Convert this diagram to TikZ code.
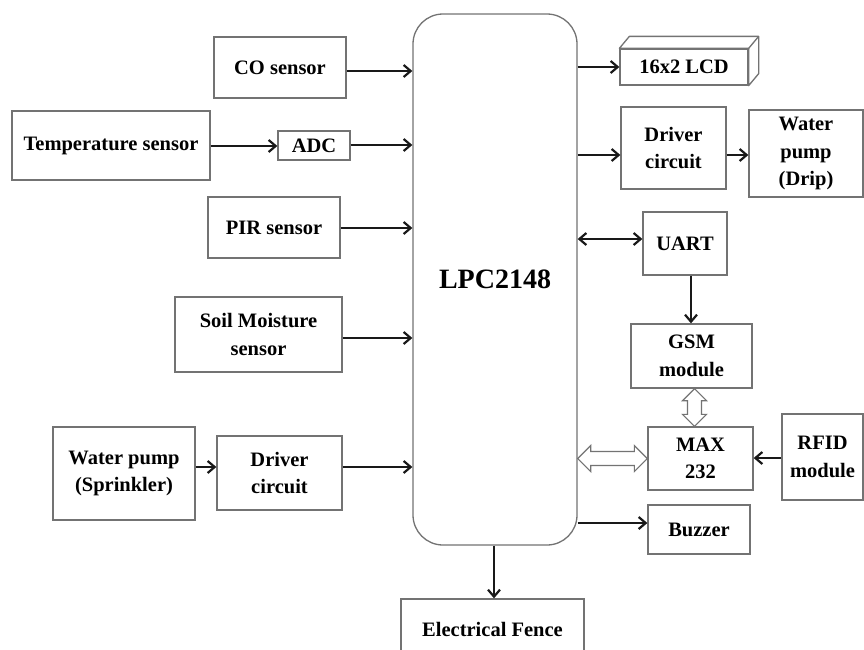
\documentclass[tikz,border=0pt]{standalone}
\usepackage{fontspec}
\setmainfont{Liberation Serif}
\usetikzlibrary{arrows.meta,calc}
\begin{document}
\begin{tikzpicture}[x=1pt,y=-1pt,
  box/.style={draw=black!55, line width=1.3pt, fill=white, font=\fontsize{20.5}{27.5}\selectfont\bfseries, align=center, inner sep=0pt},
  tipb/.tip={Straight Barb[length=7pt,width=12pt,line width=2.2pt]},
  arr/.style={line width=2.6pt, draw=black!90, -tipb},
  darr/.style={line width=2.6pt, draw=black!90, tipb-tipb},
  hollow/.style={draw=black!55, line width=1.2pt, fill=white, line join=miter}
]
\useasboundingbox (0,0) rectangle (864,649);
\clip (0,0) rectangle (864,649);

% central controller
\node[box, rounded corners=30pt, minimum width=164pt, minimum height=531pt, font=\fontsize{28}{34}\selectfont\bfseries] (lpc) at (495,279.5) {LPC2148};

% left side
\node[box, minimum width=132pt, minimum height=61pt] (co) at (280,67.5) {CO sensor};
\node[box, minimum width=198pt, minimum height=69pt] (temp) at (111,145.5) {Temperature sensor};
\node[box, minimum width=72pt, minimum height=29pt] (adc) at (314,145.5) {ADC};
\node[box, minimum width=132pt, minimum height=61pt] (pir) at (274,227.5) {PIR sensor};
\node[box, minimum width=167pt, minimum height=75pt] (soil) at (258.5,334.5) {Soil Moisture\\sensor};
\node[box, minimum width=142pt, minimum height=93pt] (spr) at (124,473.5) {Water pump\\(Sprinkler)};
\node[box, minimum width=125pt, minimum height=74pt] (drvl) at (279.5,473) {Driver\\circuit};

% right side
\node[box, minimum width=128pt, minimum height=36pt] (lcd) at (684,67) {16x2 LCD};
\node[box, minimum width=105pt, minimum height=82pt] (drvr) at (673.5,148) {Driver\\circuit};
\node[box, minimum width=114pt, minimum height=87pt] (drip) at (806,153.5) {Water\\pump\\(Drip)};
\node[box, minimum width=84pt, minimum height=63pt] (uart) at (685,243.5) {UART};
\node[box, minimum width=121pt, minimum height=64pt] (gsm) at (691.5,356) {GSM\\module};
\node[box, minimum width=105pt, minimum height=63pt] (max) at (700.5,458.5) {MAX\\232};
\node[box, minimum width=81pt, minimum height=86pt] (rfid) at (822.5,457) {RFID\\module};
\node[box, minimum width=102pt, minimum height=49pt] (buz) at (699,529.5) {Buzzer};
\node[box, minimum width=183pt, minimum height=60pt] (fence) at (492.5,629) {Electrical Fence};

% 3D faces of the LCD
\draw[draw=black!55, line width=1.3pt, fill=white, line join=round]
  (lcd.north west) -- ($(lcd.north west)+(10pt,12pt)$) -- ($(lcd.north east)+(10pt,12pt)$)
  -- ($(lcd.south east)+(10pt,12pt)$) -- (lcd.south east) -- (lcd.north east) -- cycle;
\draw[draw=black!55, line width=1.3pt] (lcd.north east) -- ($(lcd.north east)+(10pt,12pt)$);

% input connectors
\draw[arr] (co.east |- 0,71) -- (lpc.west |- 0,71);
\draw[arr] (temp.east |- 0,146) -- (adc.west |- 0,146);
\draw[arr] (adc.east |- 0,145) -- (lpc.west |- 0,145);
\draw[arr] (pir.east |- 0,228) -- (lpc.west |- 0,228);
\draw[arr] (soil.east |- 0,338) -- (lpc.west |- 0,338);
\draw[arr] (spr.east |- 0,467) -- (drvl.west |- 0,467);
\draw[arr] (drvl.east |- 0,467) -- (lpc.west |- 0,467);

% output connectors
\draw[arr] (lpc.east |- 0,67) -- (lcd.west |- 0,67);
\draw[arr] (lpc.east |- 0,155) -- (drvr.west |- 0,155);
\draw[arr] (drvr.east |- 0,155) -- (drip.west |- 0,155);
\draw[darr] (lpc.east |- 0,239) -- (uart.west |- 0,239);
\draw[arr] (uart.south -| 691,0) -- (gsm.north -| 691,0);
\draw[arr] (rfid.west |- 0,458) -- (max.east |- 0,458);
\draw[arr] (lpc.east |- 0,523) -- (buz.west |- 0,523);
\draw[arr] (lpc.south -| 494,0) -- (fence.north -| 494,0);

% hollow double arrow LPC <-> MAX232
\coordinate (ha) at (lpc.east |- max.west);
\coordinate (hb) at (max.west);
\draw[hollow] (ha) -- ($(ha)+(13pt,13pt)$) -- ($(ha)+(13pt,7pt)$) -- ($(hb)+(-13pt,7pt)$)
  -- ($(hb)+(-13pt,13pt)$) -- (hb) -- ($(hb)+(-13pt,-13pt)$) -- ($(hb)+(-13pt,-7pt)$)
  -- ($(ha)+(13pt,-7pt)$) -- ($(ha)+(13pt,-13pt)$) -- cycle;

% hollow double arrow GSM <-> MAX232
\coordinate (va) at ($(gsm.south)+(3pt,0)$);
\coordinate (vb) at (va |- max.north);
\draw[hollow] (va) -- ($(va)+(12pt,-12pt)$) -- ($(va)+(7pt,-12pt)$) -- ($(vb)+(7pt,12pt)$)
  -- ($(vb)+(12pt,12pt)$) -- (vb) -- ($(vb)+(-12pt,12pt)$) -- ($(vb)+(-7pt,12pt)$)
  -- ($(va)+(-7pt,-12pt)$) -- ($(va)+(-12pt,-12pt)$) -- cycle;
\end{tikzpicture}
\end{document}
